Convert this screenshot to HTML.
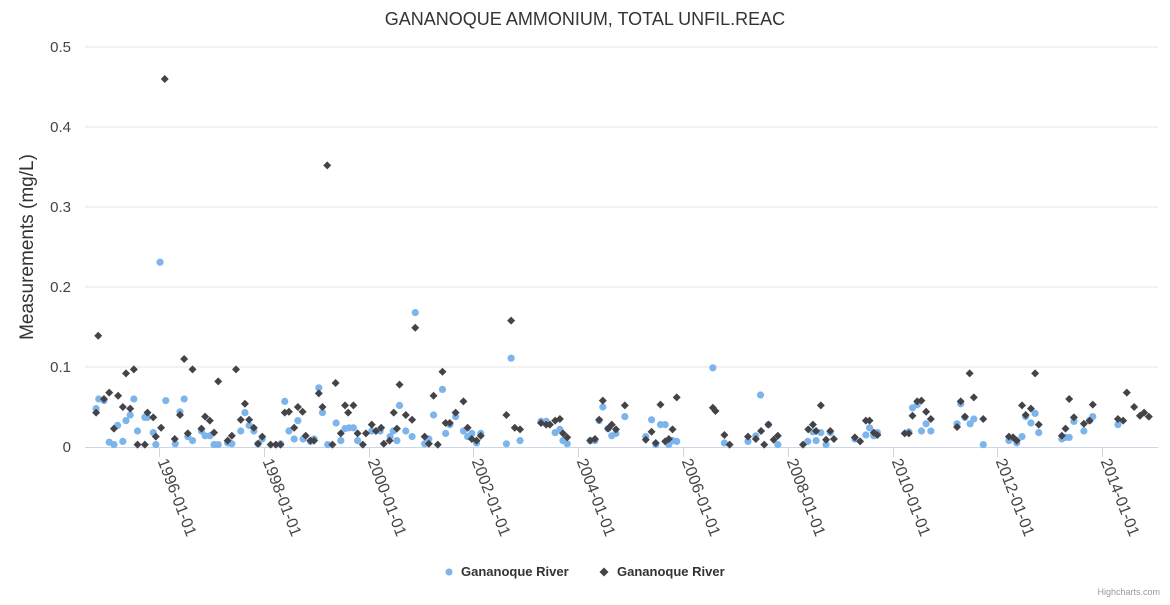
<!DOCTYPE html>
<html><head><meta charset="utf-8"><style>
body{margin:0;background:#fff;width:1170px;height:600px;overflow:hidden;font-family:"Liberation Sans",sans-serif}
</style></head><body>
<svg id="chart" width="1170" height="600" xmlns="http://www.w3.org/2000/svg" font-family="Liberation Sans, sans-serif">
<text x="585" y="25" text-anchor="middle" font-size="18" fill="#333">GANANOQUE AMMONIUM, TOTAL UNFIL.REAC</text>
<text transform="translate(33,247) rotate(-90)" text-anchor="middle" font-size="19" fill="#333">Measurements (mg/L)</text>
<g id="grid"></g><g id="xaxis"></g><g id="marks"></g>
<g>
<g><circle cx="449" cy="572" r="3.5" fill="#7cb5ec"/><text x="461" y="576" font-size="13" font-weight="bold" fill="#333">Gananoque River</text></g>
<g><path d="M604,567.5 L608.5,572 L604,576.5 L599.5,572Z" fill="#434348"/><text x="617" y="576" font-size="13" font-weight="bold" fill="#333">Gananoque River</text></g>
</g>
<text x="1160" y="595" text-anchor="end" font-size="9" fill="#999">Highcharts.com</text>
</svg>
<script>
const yTicks=[0,0.1,0.2,0.3,0.4,0.5];
const yTickLabels=["0","0.1","0.2","0.3","0.4","0.5"];
const xTicks=[1996,1998,2000,2002,2004,2006,2008,2010,2012,2014];
const xTickLabels=["1996-01-01","1998-01-01","2000-01-01","2002-01-01","2004-01-01","2006-01-01","2008-01-01","2010-01-01","2012-01-01","2014-01-01"];
const blueYears=[1994.80,1994.95,1994.85,1995.05,1995.14,1995.21,1995.31,1995.37,1995.45,1995.52,1995.59,1995.73,1995.78,1995.89,1995.94,1996.13,1996.31,1996.40,1996.48,1996.55,1996.64,1996.81,1996.88,1996.97,1997.05,1997.13,1997.31,1997.39,1997.56,1997.64,1997.72,1997.81,1997.89,1997.97,1998.32,1998.40,1998.48,1998.58,1998.65,1996.02,
1998.75,1998.89,1998.96,1999.05,1999.12,1999.22,1999.38,1999.47,1999.55,1999.63,1999.71,1999.79,2000.06,2000.22,2000.41,2000.47,2000.54,2000.59,2000.71,2000.83,2000.89,2001.07,2001.15,2001.24,2001.41,2001.47,2001.55,2001.66,2001.81,2001.89,2001.97,2002.06,2002.14,2002.63,2002.72,
2002.89,2003.29,2003.39,2003.56,2003.65,2003.71,2003.79,2004.23,2004.32,2004.40,2004.47,2004.57,2004.64,2004.72,2004.89,2005.29,2005.40,2005.48,2005.57,2005.66,2005.73,2005.80,2005.88,2006.57,2006.79,
2007.24,2007.39,2007.48,2007.63,2007.81,2008.38,2008.48,2008.54,2008.63,2008.73,2008.81,2009.28,2009.49,2009.56,2009.64,2009.71,2010.31,2010.38,2010.47,2010.55,2010.64,2010.73,
2011.23,2011.30,2011.38,2011.48,2011.55,2011.73,2012.22,2012.37,2012.47,2012.54,2012.64,2012.72,2012.79,2013.23,2013.30,2013.37,2013.46,2013.65,2013.76,2013.82,2014.30];
const blueValues=[0.048,0.058,0.060,0.006,0.003,0.027,0.007,0.033,0.040,0.060,0.020,0.037,0.037,0.018,0.003,0.058,0.004,0.044,0.060,0.013,0.008,0.020,0.014,0.014,0.003,0.003,0.005,0.004,0.020,0.043,0.027,0.020,0.004,0.010,0.004,0.057,0.020,0.010,0.033,0.231,
0.010,0.007,0.010,0.074,0.043,0.003,0.030,0.008,0.023,0.024,0.024,0.008,0.020,0.020,0.013,0.020,0.008,0.052,0.020,0.013,0.168,0.004,0.010,0.040,0.072,0.017,0.028,0.038,0.020,0.013,0.017,0.005,0.017,0.004,0.111,
0.008,0.032,0.032,0.018,0.022,0.008,0.004,0.008,0.008,0.033,0.050,0.023,0.014,0.017,0.038,0.013,0.034,0.003,0.028,0.028,0.003,0.008,0.007,0.099,0.005,
0.007,0.014,0.065,0.028,0.003,0.007,0.019,0.008,0.018,0.003,0.018,0.010,0.015,0.024,0.014,0.018,0.019,0.049,0.053,0.020,0.029,0.020,
0.029,0.054,0.037,0.029,0.035,0.003,0.008,0.005,0.013,0.038,0.030,0.042,0.018,0.010,0.012,0.012,0.032,0.020,0.033,0.038,0.028];
const blackYears=[1994.80,1994.95,1995.05,1995.14,1995.22,1995.31,1995.37,1995.45,1995.52,1995.59,1995.73,1995.78,1995.89,1995.94,1996.04,1996.30,1996.40,1996.48,1996.55,1996.64,1996.81,1996.88,1996.97,1997.05,1997.13,1997.31,1997.39,1997.47,1997.56,1997.64,1997.72,1997.81,1997.89,1997.97,1998.13,1998.23,1998.32,1998.40,1998.48,1998.58,1998.65,1994.84,1996.11,1999.21,
1998.74,1998.80,1998.89,1998.96,1999.05,1999.12,1999.31,1999.37,1999.47,1999.55,1999.61,1999.71,1999.79,1999.89,1999.95,2000.06,2000.14,2000.24,2000.29,2000.40,2000.48,2000.54,2000.59,2000.71,2000.83,2000.89,2001.07,2001.15,2001.24,2001.32,2001.41,2001.47,2001.55,2001.66,2001.81,2001.89,2001.97,2002.06,2002.14,2002.63,2002.72,2002.79,
2002.89,2003.29,2003.39,2003.46,2003.56,2003.65,2003.71,2003.79,2004.23,2004.32,2004.40,2004.47,2004.57,2004.64,2004.72,2004.89,2005.29,2005.40,2005.48,2005.57,2005.66,2005.73,2005.80,2005.88,2006.57,2006.62,2006.79,2006.89,
2007.24,2007.39,2007.49,2007.55,2007.63,2007.73,2007.81,2008.29,2008.39,2008.48,2008.54,2008.63,2008.73,2008.81,2008.88,2009.28,2009.38,2009.49,2009.56,2009.64,2009.71,2010.23,2010.31,2010.38,2010.47,2010.55,2010.64,2010.73,
2011.23,2011.30,2011.38,2011.47,2011.55,2011.73,2012.22,2012.30,2012.37,2012.47,2012.54,2012.64,2012.72,2012.79,2013.23,2013.30,2013.37,2013.46,2013.65,2013.76,2013.82,2014.30,2014.40,2014.47,2014.61,2014.72,2014.80,2014.89];
const blackValues=[0.043,0.060,0.068,0.023,0.064,0.050,0.092,0.048,0.097,0.003,0.003,0.043,0.037,0.013,0.024,0.010,0.040,0.110,0.017,0.097,0.023,0.038,0.033,0.018,0.082,0.008,0.014,0.097,0.034,0.054,0.034,0.024,0.004,0.013,0.003,0.003,0.003,0.043,0.044,0.024,0.050,0.139,0.460,0.352,
0.044,0.014,0.008,0.008,0.067,0.050,0.003,0.080,0.017,0.052,0.043,0.052,0.017,0.003,0.017,0.028,0.020,0.024,0.004,0.008,0.043,0.023,0.078,0.040,0.034,0.149,0.013,0.004,0.064,0.003,0.094,0.030,0.030,0.043,0.057,0.024,0.010,0.008,0.014,0.040,0.158,0.024,
0.022,0.030,0.028,0.028,0.033,0.035,0.017,0.012,0.008,0.010,0.034,0.058,0.023,0.028,0.022,0.052,0.009,0.019,0.005,0.053,0.007,0.010,0.022,0.062,0.049,0.045,0.015,0.003,
0.013,0.010,0.020,0.003,0.028,0.009,0.014,0.003,0.022,0.028,0.020,0.052,0.009,0.020,0.010,0.012,0.007,0.033,0.033,0.018,0.015,0.017,0.017,0.039,0.057,0.058,0.044,0.035,
0.025,0.057,0.038,0.092,0.062,0.035,0.013,0.012,0.008,0.052,0.040,0.048,0.092,0.028,0.014,0.023,0.060,0.037,0.029,0.033,0.053,0.035,0.033,0.068,0.050,0.039,0.043,0.038];

const NS="http://www.w3.org/2000/svg";
const X0=85,X1=1158,Y0=447,YTOP=47;
function xScale(t){return 159+(t-1996)*52.4;}
function yScale(v){return Y0-(v/0.5)*(Y0-YTOP);}
function mk(tag,attrs,parent){const e=document.createElementNS(NS,tag);for(const k in attrs)e.setAttribute(k,attrs[k]);parent.appendChild(e);return e;}
const grid=document.getElementById('grid'),xa=document.getElementById('xaxis'),marks=document.getElementById('marks');
yTicks.forEach((v,i)=>{
  const y=yScale(v);
  if(v>0){const l=mk('line',{x1:X0,x2:X1,y1:y,y2:y,stroke:'#e6e6e6','stroke-width':1},grid);
  
  }
  const t=mk('text',{x:71,y:y+5,'text-anchor':'end','font-size':15,fill:'#444'},grid);
  t.textContent=yTickLabels[i];
  
  
});
const ax=mk('line',{x1:X0,x2:X1,y1:Y0+0.5,y2:Y0+0.5,stroke:'#ccd6eb','stroke-width':1},xa);


xTicks.forEach((t,i)=>{
  const x=Math.round(xScale(t))+0.5;
  const tk=mk('line',{x1:x,x2:x,y1:Y0,y2:Y0+10,stroke:'#ccd6eb'},xa);
  
  
  const tx=mk('text',{transform:`translate(${x-2},${Y0+14}) rotate(69)`,'font-size':16,fill:'#444'},xa);
  tx.textContent=xTickLabels[i];
  
  
});
blueYears.forEach((t,i)=>{
  const c=mk('circle',{cx:xScale(t),cy:yScale(blueValues[i]),r:3.6,fill:'#7cb5ec'},marks);
  
  
});
blackYears.forEach((t,i)=>{
  const x=xScale(t),y=yScale(blackValues[i]);
  const p=mk('path',{d:`M${x},${y-4}L${x+4},${y}L${x},${y+4}L${x-4},${y}Z`,fill:'#434348'},marks);
  
  
});
</script>
</body></html>
